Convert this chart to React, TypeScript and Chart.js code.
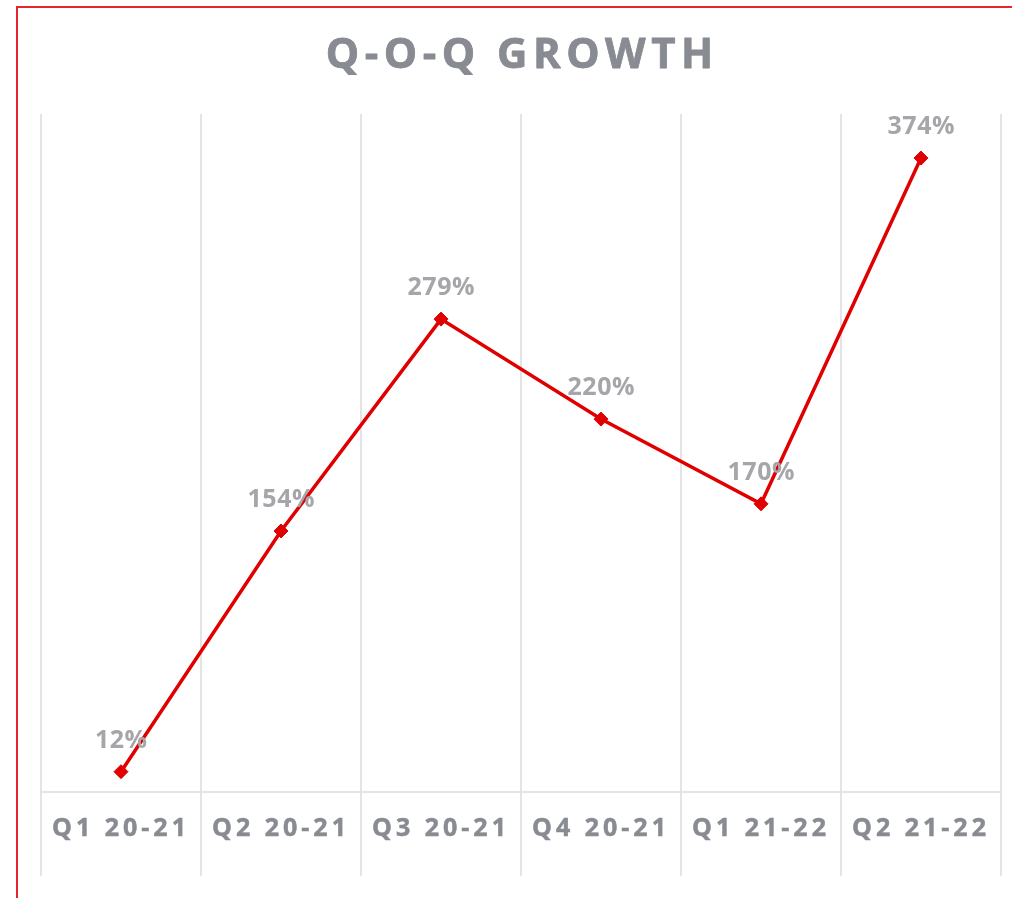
import { useEffect, useRef } from "react";
import { Chart, registerables } from "chart.js";

Chart.register(...registerables);

const categories = ["Q1 20-21", "Q2 20-21", "Q3 20-21", "Q4 20-21", "Q1 21-22", "Q2 21-22"];
const growth = [12, 154, 279, 220, 170, 374];
const titleText = "Q-O-Q GROWTH";
const yMin = 0;
const yMax = 400;

const RED = "#e00000";
const AXIS_TEXT = "#888b92";
const LABEL_TEXT = "#a5a5aa";
const GRID = "#e4e4e4";
const TICK_EXTENSION = 84;

export default function App() {
  const ref = useRef<HTMLCanvasElement>(null);

  useEffect(() => {
    const canvas = ref.current;
    if (!canvas) return;

    const spacingPlugin = {
      id: "spacing",
      beforeDraw(chart: any) {
        chart.ctx.letterSpacing = "4px";
      },
      afterDraw(chart: any) {
        chart.ctx.letterSpacing = "0px";
      },
    };

    // category boundary lines extended below the axis line
    const tickExtensionPlugin = {
      id: "tickExtension",
      beforeDatasetsDraw(chart: any) {
        const ctx = chart.ctx as CanvasRenderingContext2D;
        const xs = chart.scales.x;
        const bottom = chart.chartArea.bottom;
        ctx.save();
        ctx.strokeStyle = GRID;
        ctx.lineWidth = 2;
        for (let i = 0; i <= categories.length; i++) {
          const x = Math.round(xs.getPixelForValue(i - 0.5));
          ctx.beginPath();
          ctx.moveTo(x, bottom);
          ctx.lineTo(x, bottom + TICK_EXTENSION);
          ctx.stroke();
        }
        ctx.restore();
      },
    };

    const titlePlugin = {
      id: "customTitle",
      afterDraw(chart: any) {
        const ctx = chart.ctx as CanvasRenderingContext2D;
        const { left, right } = chart.chartArea;
        const sp = 5.5;
        const x = (left + right) / 2 + sp / 2 - 1.5;
        const y = 56;
        ctx.save();
        (ctx as any).letterSpacing = sp + "px";
        ctx.font = 'bold 42px "Open Sans"';
        ctx.fillStyle = AXIS_TEXT;
        ctx.strokeStyle = AXIS_TEXT;
        ctx.lineWidth = 0.8;
        ctx.lineJoin = "round";
        ctx.textAlign = "center";
        ctx.textBaseline = "middle";
        ctx.fillText(titleText, x, y);
        ctx.strokeText(titleText, x, y);
        ctx.restore();
      },
    };

    const valueLabelPlugin = {
      id: "valueLabels",
      afterDatasetsDraw(chart: any) {
        const ctx = chart.ctx as CanvasRenderingContext2D;
        const meta = chart.getDatasetMeta(0);
        ctx.save();
        (ctx as any).letterSpacing = "0.5px";
        ctx.font = 'bold 25px "Open Sans"';
        ctx.fillStyle = LABEL_TEXT;
        ctx.textAlign = "center";
        ctx.textBaseline = "middle";
        meta.data.forEach((pt: any, i: number) => {
          ctx.fillText(growth[i] + "%", pt.x + 0.25, pt.y - 31);
        });
        ctx.restore();
      },
    };

    const chart = new Chart(canvas, {
      type: "line",
      data: {
        labels: categories,
        datasets: [
          {
            data: growth,
            borderColor: RED,
            backgroundColor: RED,
            borderWidth: 3.5,
            tension: 0,
            pointStyle: "rectRot",
            pointRadius: 7,
            pointBackgroundColor: RED,
            pointBorderColor: RED,
            pointBorderWidth: 1,
          },
        ],
      },
      options: {
        responsive: false,
        maintainAspectRatio: false,
        animation: false,
        layout: { padding: { left: 41, right: 11, top: 114, bottom: 32 } },
        plugins: {
          legend: { display: false },
          tooltip: { enabled: false },
          title: { display: false },
        },
        scales: {
          x: {
            offset: true,
            grid: {
              offset: true,
              color: GRID,
              lineWidth: 2,
              drawTicks: false,
            },
            border: { display: true, color: GRID, width: 2 },
            ticks: {
              color: AXIS_TEXT,
              textStrokeColor: AXIS_TEXT,
              textStrokeWidth: 0.5,
              padding: 22,
              maxRotation: 0,
              autoSkip: false,
              font: { family: '"Open Sans"', size: 25, weight: "bold" },
            },
          },
          y: {
            display: false,
            min: yMin,
            max: yMax,
          },
        },
      },
      plugins: [spacingPlugin, tickExtensionPlugin, titlePlugin, valueLabelPlugin],
    });

    return () => chart.destroy();
  }, []);

  return (
    <div style={{ position: "absolute", left: 0, top: 0, width: 1012, height: 898, background: "#fff", overflow: "hidden" }}>
      <canvas ref={ref} width={1012} height={898} style={{ display: "block", width: 1012, height: 898 }} />
      <div
        style={{
          position: "absolute",
          left: 16,
          top: 6,
          right: 0,
          bottom: 0,
          borderLeft: "2px solid #e3262b",
          borderTop: "2px solid #e3262b",
          pointerEvents: "none",
        }}
      />
    </div>
  );
}
